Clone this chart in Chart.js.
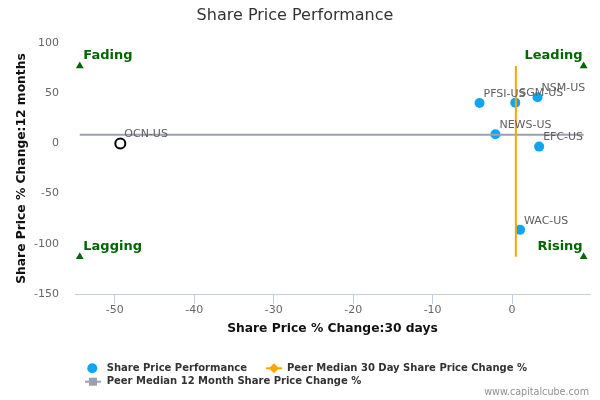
<!DOCTYPE html>
<html>
<head>
<meta charset="utf-8">
<script src="https://cdn.jsdelivr.net/npm/chart.js@4"></script>
<style>
html,body{margin:0;padding:0;background:#fff;}
#wrap{width:600px;height:400px;}
</style>
</head>
<body>
<div id="wrap"><canvas id="c" width="600" height="400"></canvas></div>
<script>
// ---- data ----
const tickers = ['OCN-US', 'PFSI-US', 'SGM-US', 'NSM-US', 'NEWS-US', 'EFC-US', 'WAC-US'];
const change30d = [-49.3, -4.1, 0.4, 3.2, -2.1, 3.4, 1.0];
const change12m = [0.0, 40.3, 40.6, 46.0, 9.2, -3.2, -86.1];
const highlighted = 'OCN-US';
const peerMedian30d = 0.47;
const peerMedian12m = 8.5;
const quadrantNames = ['Fading', 'Leading', 'Lagging', 'Rising'];
const quadrantX = [-54.4, 9.0, -54.4, 9.0];
const quadrantY = [77.0, 77.0, -113.0, -113.0];
const seriesNames = ['Share Price Performance', 'Peer Median 30 Day Share Price Change %', 'Peer Median 12 Month Share Price Change %'];
const xRange = [-55, 9.8];
const yRange = [-150, 100];
const xStep = 10;
const yStep = 50;

// ---- styles ----
const BLUE = '#0ea5f2';
const ORANGE = '#FFA500';
const GREY = '#9aa1b0';
const GREEN = '#006600';
const FONT = '"DejaVu Sans", sans-serif';
Chart.defaults.font.family = FONT;

const pointData = tickers.map((t, i) => ({x: change30d[i], y: change12m[i]}));
const qMinX = Math.min(...quadrantX), qMaxX = Math.max(...quadrantX);
const qMinY = Math.min(...quadrantY), qMaxY = Math.max(...quadrantY);

const labelPlugin = {
  id: 'pointLabels',
  afterDatasetsDraw(chart) {
    const ctx = chart.ctx;
    ctx.save();
    ctx.textBaseline = 'middle';
    // ticker labels
    const m0 = chart.getDatasetMeta(0);
    ctx.font = '11px ' + FONT;
    ctx.fillStyle = '#606060';
    ctx.textAlign = 'left';
    m0.data.forEach((el, i) => {
      ctx.fillText(tickers[i], el.x + 4, el.y - 9);
    });
    // quadrant labels
    const m3 = chart.getDatasetMeta(3);
    ctx.font = 'bold 13px ' + FONT;
    ctx.fillStyle = GREEN;
    m3.data.forEach((el, i) => {
      const left = quadrantX[i] < 0;
      ctx.textAlign = left ? 'left' : 'right';
      ctx.fillText(quadrantNames[i], left ? el.x + 3.5 : el.x - 1, el.y - 10);
    });
    ctx.restore();
  }
};

const legendPlugin = {
  id: 'customLegend',
  afterDraw(chart) {
    const ctx = chart.ctx;
    ctx.save();
    ctx.textBaseline = 'middle';
    ctx.font = 'bold 10px ' + FONT;
    // item 1: circle
    const r1 = 368.3, r2 = 381.7;
    ctx.fillStyle = BLUE;
    ctx.beginPath(); ctx.arc(92.3, r1, 5, 0, Math.PI * 2); ctx.fill();
    ctx.fillStyle = '#333';
    ctx.textAlign = 'left';
    ctx.fillText(seriesNames[0], 106.7, r1);
    // item 2: orange line with diamond
    ctx.strokeStyle = ORANGE; ctx.lineWidth = 2;
    ctx.beginPath(); ctx.moveTo(266, r1); ctx.lineTo(282, r1); ctx.stroke();
    ctx.fillStyle = ORANGE;
    ctx.beginPath(); ctx.moveTo(274, r1 - 5); ctx.lineTo(279, r1); ctx.lineTo(274, r1 + 5); ctx.lineTo(269, r1); ctx.closePath(); ctx.fill();
    ctx.fillStyle = '#333';
    ctx.fillText(seriesNames[1], 287, r1);
    // item 3: grey line with square
    ctx.strokeStyle = GREY;
    ctx.beginPath(); ctx.moveTo(85, r2); ctx.lineTo(101, r2); ctx.stroke();
    ctx.fillStyle = GREY;
    ctx.fillRect(89, r2 - 4, 8, 8);
    ctx.fillStyle = '#333';
    ctx.fillText(seriesNames[2], 106.7, r2);
    // credits
    ctx.font = '9.6px ' + FONT;
    ctx.fillStyle = '#909090';
    ctx.textAlign = 'right';
    ctx.fillText('www.capitalcube.com', 589, 392.7);
    ctx.restore();
  }
};

new Chart(document.getElementById('c'), {
  type: 'scatter',
  data: {
    datasets: [
      {
        label: seriesNames[0],
        data: pointData,
        order: 2,
        pointRadius: 5,
        pointHoverRadius: 5,
        pointBackgroundColor: tickers.map(t => t === highlighted ? '#ffffff' : BLUE),
        pointBorderColor: tickers.map(t => t === highlighted ? '#000000' : BLUE),
        pointBorderWidth: tickers.map(t => t === highlighted ? 2 : 0)
      },
      {
        label: seriesNames[1],
        data: [{x: peerMedian30d, y: qMaxY}, {x: peerMedian30d, y: qMinY}],
        type: 'line',
        showLine: true,
        order: 1,
        borderColor: ORANGE,
        borderWidth: 2,
        pointRadius: 0,
        fill: false
      },
      {
        label: seriesNames[2],
        data: [{x: qMinX, y: peerMedian12m}, {x: qMaxX, y: peerMedian12m}],
        type: 'line',
        showLine: true,
        order: 1,
        borderColor: GREY,
        borderWidth: 2,
        pointRadius: 0,
        fill: false
      },
      {
        label: 'Quadrants',
        data: quadrantX.map((x, i) => ({x: x, y: quadrantY[i]})),
        order: 3,
        pointStyle: 'triangle',
        pointRadius: 4.5,
        pointHoverRadius: 4.5,
        pointBackgroundColor: GREEN,
        pointBorderColor: GREEN,
        pointBorderWidth: 0
      }
    ]
  },
  options: {
    responsive: false,
    animation: false,
    events: [],
    layout: {padding: {left: 0, right: 10, top: 0, bottom: 60}},
    plugins: {
      legend: {display: false},
      tooltip: {enabled: false},
      title: {
        display: true,
        text: 'Share Price Performance',
        color: '#333333',
        font: {size: 16, weight: 'normal', family: FONT},
        padding: {top: 6, bottom: 17.8}
      }
    },
    scales: {
      x: {
        type: 'linear',
        min: xRange[0],
        max: xRange[1],
        afterBuildTicks(scale) {
          scale.ticks = scale.ticks.filter(t => Math.abs(t.value % xStep) < 1e-9);
        },
        afterFit(scale) { scale.height = 46; },
        ticks: {stepSize: xStep, color: '#666', font: {size: 11}, padding: 0, maxRotation: 0},
        grid: {drawOnChartArea: false, drawTicks: true, tickLength: 10, color: '#C0D0E0', lineWidth: 1},
        border: {display: true, color: '#C0D0E0', width: 1},
        title: {
          display: true,
          text: 'Share Price % Change:30 days',
          color: '#111',
          font: {size: 12.3, weight: 'bold'},
          padding: {top: 4, bottom: 4}
        }
      },
      y: {
        type: 'linear',
        min: yRange[0],
        max: yRange[1],
        afterFit(scale) { scale.width = 75; },
        ticks: {stepSize: yStep, color: '#666', font: {size: 11}, padding: 16},
        grid: {display: false, drawTicks: false},
        border: {display: false},
        title: {
          display: true,
          text: 'Share Price % Change:12 months',
          color: '#111',
          font: {size: 12.3, weight: 'bold'},
          padding: {top: 14, bottom: 0}
        }
      }
    }
  },
  plugins: [labelPlugin, legendPlugin]
});
</script>
</body>
</html>
